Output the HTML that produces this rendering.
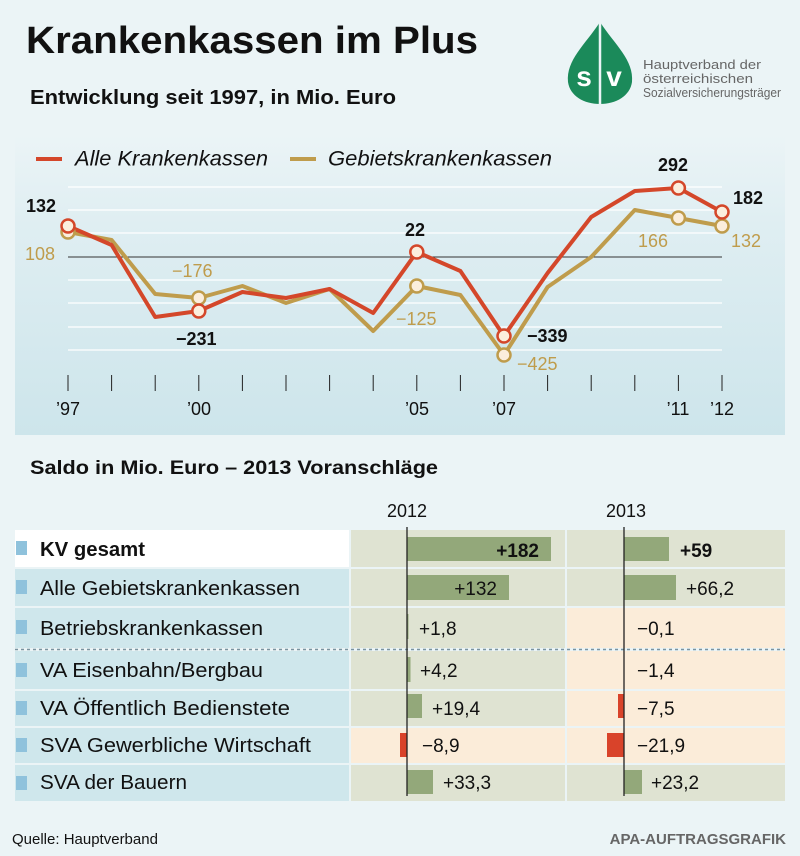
<!DOCTYPE html>
<html><head><meta charset="utf-8"><style>
body{margin:0;background:#ebf4f6;}
svg{display:block;font-family:"Liberation Sans",sans-serif;}
</style></head><body>
<svg width="800" height="856" viewBox="0 0 800 856" xmlns="http://www.w3.org/2000/svg">
<defs>
<linearGradient id="g" x1="0" y1="0" x2="0" y2="1">
<stop offset="0" stop-color="#ebf4f6"/><stop offset="0.3" stop-color="#dfeef2"/><stop offset="1" stop-color="#cde5eb"/>
</linearGradient>
</defs>
<rect width="800" height="856" fill="#ebf4f6"/>
<text x="26" y="53" font-size="38" font-weight="bold" fill="#111" textLength="452" lengthAdjust="spacingAndGlyphs">Krankenkassen im Plus</text>
<text x="30" y="104" font-size="20" font-weight="bold" fill="#111" textLength="366" lengthAdjust="spacingAndGlyphs">Entwicklung seit 1997, in Mio. Euro</text>
<!-- logo -->
<path d="M600 22 C585 45 566 60 568 82 C570 96 584 104 600 104 C616 104 630 96 632 82 C634 60 615 45 600 22 Z" fill="#1b8a5a"/>
<line x1="600" y1="22" x2="600" y2="104" stroke="#ebf4f6" stroke-width="2.5"/>
<text x="584" y="86" font-size="28" font-weight="bold" fill="#fff" text-anchor="middle">s</text>
<text x="614" y="86" font-size="28" font-weight="bold" fill="#fff" text-anchor="middle">v</text>
<text x="643" y="69" font-size="12.5" fill="#666" textLength="118" lengthAdjust="spacingAndGlyphs">Hauptverband der</text>
<text x="643" y="83" font-size="12.5" fill="#666" textLength="110" lengthAdjust="spacingAndGlyphs">österreichischen</text>
<text x="643" y="97" font-size="12.5" fill="#666" textLength="138" lengthAdjust="spacingAndGlyphs">Sozialversicherungsträger</text>
<!-- chart panel -->
<rect x="15" y="135" width="770" height="300" fill="url(#g)"/>
<line x1="36" y1="159" x2="62" y2="159" stroke="#d4472a" stroke-width="4"/>
<text x="75" y="160" font-size="21" font-style="italic" fill="#111" dominant-baseline="middle" textLength="193" lengthAdjust="spacingAndGlyphs">Alle Krankenkassen</text>
<line x1="290" y1="159" x2="316" y2="159" stroke="#bf9c4c" stroke-width="4"/>
<text x="328" y="160" font-size="21" font-style="italic" fill="#111" dominant-baseline="middle" textLength="224" lengthAdjust="spacingAndGlyphs">Gebietskrankenkassen</text>
<g stroke="#fff" stroke-width="1.3">
<line x1="68" y1="187" x2="722" y2="187"/><line x1="68" y1="210" x2="722" y2="210"/><line x1="68" y1="233" x2="722" y2="233"/>
<line x1="68" y1="280" x2="722" y2="280"/><line x1="68" y1="303" x2="722" y2="303"/><line x1="68" y1="327" x2="722" y2="327"/><line x1="68" y1="350" x2="722" y2="350"/>
</g>
<line x1="68" y1="257" x2="722" y2="257" stroke="#333" stroke-width="1"/>
<g stroke="#222" stroke-width="1">
<line x1="68" y1="375" x2="68" y2="391"/><line x1="111.6" y1="375" x2="111.6" y2="391"/><line x1="155.2" y1="375" x2="155.2" y2="391"/><line x1="198.8" y1="375" x2="198.8" y2="391"/><line x1="242.4" y1="375" x2="242.4" y2="391"/><line x1="286" y1="375" x2="286" y2="391"/><line x1="329.6" y1="375" x2="329.6" y2="391"/><line x1="373.2" y1="375" x2="373.2" y2="391"/><line x1="416.8" y1="375" x2="416.8" y2="391"/><line x1="460.4" y1="375" x2="460.4" y2="391"/><line x1="504" y1="375" x2="504" y2="391"/><line x1="547.6" y1="375" x2="547.6" y2="391"/><line x1="591.2" y1="375" x2="591.2" y2="391"/><line x1="634.8" y1="375" x2="634.8" y2="391"/><line x1="678.4" y1="375" x2="678.4" y2="391"/><line x1="722" y1="375" x2="722" y2="391"/>
</g>
<g font-size="18" fill="#111" text-anchor="middle">
<text x="68" y="415">’97</text><text x="199" y="415">’00</text><text x="417" y="415">’05</text><text x="504" y="415">’07</text><text x="678" y="415">’11</text><text x="722" y="415">’12</text>
</g>
<polyline fill="none" stroke="#bf9c4c" stroke-width="4" stroke-linejoin="round" points="68,232 111.6,240 155.2,294 198.8,298 242.4,286 286,303 329.6,289 373.2,331 416.8,286 460.4,295 504,355 547.6,287 591.2,257 634.8,210 678.4,218 722,226"/>
<polyline fill="none" stroke="#d4472a" stroke-width="4" stroke-linejoin="round" points="68,226 111.6,245 155.2,317 198.8,311 242.4,292 286,298 329.6,289 373.2,313 416.8,252 460.4,271 504,336 547.6,273 591.2,217 634.8,191 678.4,188 722,212"/>
<g fill="#fbeedd" stroke="#bf9c4c" stroke-width="2.5">
<circle cx="68" cy="232" r="6.5"/><circle cx="198.8" cy="298" r="6.5"/><circle cx="416.8" cy="286" r="6.5"/><circle cx="504" cy="355" r="6.5"/><circle cx="678.4" cy="218" r="6.5"/><circle cx="722" cy="226" r="6.5"/>
</g>
<g fill="#fbeedd" stroke="#d4472a" stroke-width="2.5">
<circle cx="68" cy="226" r="6.5"/><circle cx="198.8" cy="311" r="6.5"/><circle cx="416.8" cy="252" r="6.5"/><circle cx="504" cy="336" r="6.5"/><circle cx="678.4" cy="188" r="6.5"/><circle cx="722" cy="212" r="6.5"/>
</g>
<g font-size="18" font-weight="bold" fill="#111">
<text x="26" y="212">132</text><text x="176" y="345">−231</text><text x="405" y="236">22</text><text x="527" y="342">−339</text><text x="658" y="171">292</text><text x="733" y="204">182</text>
</g>
<g font-size="18" fill="#bf9c4c">
<text x="25" y="260">108</text><text x="172" y="277">−176</text><text x="396" y="325">−125</text><text x="517" y="370">−425</text><text x="638" y="247">166</text><text x="731" y="247">132</text>
</g>
<!-- table -->
<text x="30" y="474" font-size="19" font-weight="bold" fill="#111" textLength="408" lengthAdjust="spacingAndGlyphs">Saldo in Mio. Euro – 2013 Voranschläge</text>
<text x="407" y="517" font-size="18" fill="#111" text-anchor="middle">2012</text>
<text x="626" y="517" font-size="18" fill="#111" text-anchor="middle">2013</text>
<g>
<rect x="15" y="530" width="334" height="37" fill="#fff"/>
<rect x="351" y="530" width="214" height="37" fill="#dfe3d2"/><rect x="567" y="530" width="218" height="37" fill="#dfe3d2"/>
<rect x="15" y="569" width="334" height="37" fill="#cfe7ec"/>
<rect x="351" y="569" width="214" height="37" fill="#dfe3d2"/><rect x="567" y="569" width="218" height="37" fill="#dfe3d2"/>
<rect x="15" y="608" width="334" height="40" fill="#cfe7ec"/>
<rect x="351" y="608" width="214" height="40" fill="#dfe3d2"/><rect x="567" y="608" width="218" height="40" fill="#fbecd9"/>
<rect x="15" y="651" width="334" height="38" fill="#cfe7ec"/>
<rect x="351" y="651" width="214" height="38" fill="#dfe3d2"/><rect x="567" y="651" width="218" height="38" fill="#fbecd9"/>
<rect x="15" y="691" width="334" height="35" fill="#cfe7ec"/>
<rect x="351" y="691" width="214" height="35" fill="#dfe3d2"/><rect x="567" y="691" width="218" height="35" fill="#fbecd9"/>
<rect x="15" y="728" width="334" height="35" fill="#cfe7ec"/>
<rect x="351" y="728" width="214" height="35" fill="#fbecd9"/><rect x="567" y="728" width="218" height="35" fill="#fbecd9"/>
<rect x="15" y="765" width="334" height="36" fill="#cfe7ec"/>
<rect x="351" y="765" width="214" height="36" fill="#dfe3d2"/><rect x="567" y="765" width="218" height="36" fill="#dfe3d2"/>
</g>
<line x1="15" y1="649.5" x2="785" y2="649.5" stroke="#7a93a0" stroke-width="1.5" stroke-dasharray="3,3"/>
<g fill="#8fc2dc">
<rect x="16" y="541" width="11" height="14"/><rect x="16" y="580" width="11" height="14"/><rect x="16" y="620" width="11" height="14"/><rect x="16" y="663" width="11" height="14"/><rect x="16" y="701" width="11" height="14"/><rect x="16" y="738" width="11" height="14"/><rect x="16" y="776" width="11" height="14"/>
</g>
<g font-size="20" fill="#111" lengthAdjust="spacingAndGlyphs">
<text x="40" y="556" font-weight="bold" textLength="105" lengthAdjust="spacingAndGlyphs">KV gesamt</text>
<text x="40" y="595" textLength="260" lengthAdjust="spacingAndGlyphs">Alle Gebietskrankenkassen</text>
<text x="40" y="635" textLength="223" lengthAdjust="spacingAndGlyphs">Betriebskrankenkassen</text>
<text x="40" y="677" textLength="223" lengthAdjust="spacingAndGlyphs">VA Eisenbahn/Bergbau</text>
<text x="40" y="715" textLength="250" lengthAdjust="spacingAndGlyphs">VA Öffentlich Bedienstete</text>
<text x="40" y="752" textLength="271" lengthAdjust="spacingAndGlyphs">SVA Gewerbliche Wirtschaft</text>
<text x="40" y="789" textLength="147" lengthAdjust="spacingAndGlyphs">SVA der Bauern</text>
</g>
<g fill="#93a87a">
<rect x="407" y="537" width="144" height="24"/><rect x="407" y="575" width="102" height="25"/><rect x="407" y="614" width="1.5" height="25"/><rect x="407" y="657" width="3.5" height="25"/><rect x="407" y="694" width="15" height="24"/><rect x="407" y="770" width="26" height="24"/>
<rect x="624" y="537" width="45" height="24"/><rect x="624" y="575" width="52" height="25"/><rect x="624" y="770" width="18" height="24"/>
</g>
<g fill="#d9432a">
<rect x="400" y="733" width="7" height="24"/><rect x="618" y="694" width="6" height="24"/><rect x="607" y="733" width="17" height="24"/>
</g>
<line x1="407" y1="527" x2="407" y2="796" stroke="#222" stroke-width="1.3"/>
<line x1="624" y1="527" x2="624" y2="796" stroke="#222" stroke-width="1.3"/>
<g font-size="19" fill="#111">
<text x="539" y="557" font-weight="bold" text-anchor="end">+182</text>
<text x="497" y="595" text-anchor="end">+132</text>
<text x="419" y="635">+1,8</text>
<text x="420" y="677">+4,2</text>
<text x="432" y="715">+19,4</text>
<text x="422" y="752">−8,9</text>
<text x="443" y="789">+33,3</text>
<text x="680" y="557" font-weight="bold">+59</text>
<text x="686" y="595">+66,2</text>
<text x="637" y="635">−0,1</text>
<text x="637" y="677">−1,4</text>
<text x="637" y="715">−7,5</text>
<text x="637" y="752">−21,9</text>
<text x="651" y="789">+23,2</text>
</g>
<text x="12" y="844" font-size="15" fill="#111">Quelle: Hauptverband</text>
<text x="786" y="844" font-size="15" font-weight="bold" fill="#666" text-anchor="end">APA-AUFTRAGSGRAFIK</text>
</svg>
</body></html>
